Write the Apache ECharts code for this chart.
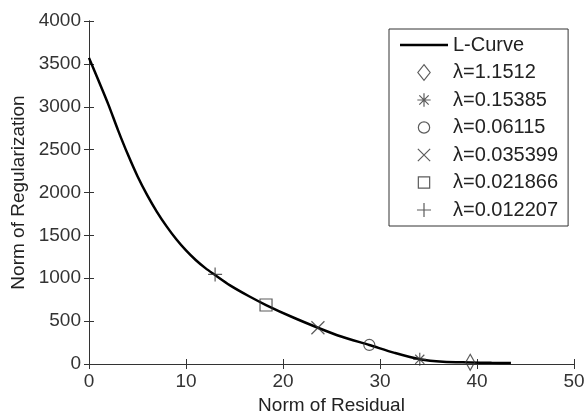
<!DOCTYPE html>
<html><head><meta charset="utf-8">
<script src="https://cdn.jsdelivr.net/npm/echarts@6/dist/echarts.min.js"></script>
<style>html,body{margin:0;padding:0;background:#fff}#c{width:586px;height:412px}</style>
</head><body><div id="c"></div>
<script>
// L-curve
const curveX = [0, 1, 2, 3, 4, 5, 6, 7, 8, 9, 10, 11, 12, 13, 14.5, 16.5, 18.25, 21, 23.6, 26, 28.9, 31.5, 34.1, 36.5, 39.3, 41.5, 43.5];
const curveY = [3570, 3300, 3025, 2725, 2445, 2190, 1970, 1775, 1605, 1455, 1325, 1213, 1118, 1038, 920, 790, 688, 545, 423, 320, 222, 130, 55, 25, 18, 14, 12];
// Marked points
const markerNames = ['λ=1.1512', 'λ=0.15385', 'λ=0.06115', 'λ=0.035399', 'λ=0.021866', 'λ=0.012207'];
const markerX = [39.3, 34.1, 28.9, 23.6, 18.25, 13.0];
const markerY = [20, 55, 222, 423, 688, 1045];
const xTicks = [0, 10, 20, 30, 40, 50];
const yTicks = [0, 500, 1000, 1500, 2000, 2500, 3000, 3500, 4000];

// plot symbols
const symbols = [
  'path://M6,0L12,8L6,16L0,8Z',
  'path://M6,0L6,12M0,6L12,6M1.8,1.8L10.2,10.2M10.2,1.8L1.8,10.2',
  'path://M12,6A6,6,0,1,1,0,6A6,6,0,1,1,12,6Z',
  'path://M0,0L10,10M10,0L0,10',
  'path://M0,0L10,0L10,10L0,10Z',
  'path://M5,0L5,10M0,5L10,5'
];
const sizes = [[12,16], 13, 11, 13, 12, 14];
// legend icons (frame 1.5..14.5)
const F = 'path://M1.5,1.5M14.5,14.5';
const legendIcons = [
  F + 'M8,1.6L13,8L8,14.4L3,8Z',
  F + 'M8,2.6L8,13.4M2.6,8L13.4,8M4.2,4.2L11.8,11.8M11.8,4.2L4.2,11.8',
  F + 'M12.6,8A4.6,4.6,0,1,1,3.4,8A4.6,4.6,0,1,1,12.6,8Z',
  F + 'M3,3L13,13M13,3L3,13',
  F + 'M3.4,3.4L12.6,3.4L12.6,12.6L3.4,12.6Z',
  F + 'M8,2.3L8,13.7M2.3,8L13.7,8'
];

const dark = '#333';
const font = 'Liberation Sans, Arial, sans-serif';
const markStyle = {color: 'rgba(0,0,0,0)', borderColor: dark, borderWidth: 1.2};

const series = [{
  name: 'L-Curve', type: 'line', smooth: 0.3, symbol: 'none',
  lineStyle: {color: '#000', width: 2.5},
  itemStyle: {color: '#000'},
  data: curveX.map((x, i) => [x, curveY[i]]), z: 2
}];
markerNames.forEach((n, i) => {
  series.push({
    name: n, type: 'scatter', symbol: symbols[i], symbolSize: sizes[i], symbolKeepAspect: true,
    itemStyle: markStyle,
    data: [[markerX[i], markerY[i]]], z: 3
  });
});

const legendData = [{
  name: 'L-Curve', icon: 'path://M0,0M48,16M0,6.75L48,6.75L48,9.25L0,9.25Z',
  itemStyle: {color: '#000', borderWidth: 0}
}].concat(markerNames.map((n, i) => ({name: n, icon: legendIcons[i], itemStyle: markStyle})));

const axBase = {
  axisLine: {show: true, lineStyle: {color: dark, width: 1}},
  axisTick: {show: true, inside: true, length: 5, lineStyle: {color: dark}},
  splitLine: {show: false}
};
const lbl = {fontFamily: font, fontSize: 19, color: '#333', margin: 8, formatter: v => String(v)};

const option = {
  animation: false,
  backgroundColor: '#fff',
  grid: {left: 89, right: 12, top: 21, bottom: 48, containLabel: false, outerBoundsMode: 'none'},
  xAxis: [
    Object.assign({}, axBase, {type: 'value', min: xTicks[0], max: xTicks[xTicks.length - 1], interval: 10, position: 'bottom',
      name: 'Norm of Residual', nameLocation: 'middle', nameGap: 25,
      nameTextStyle: {fontFamily: font, fontSize: 19, color: '#222'},
      axisLabel: lbl}),
    Object.assign({}, axBase, {type: 'value', min: 0, max: 50, interval: 10, position: 'top',
      axisLabel: {show: false}})
  ],
  yAxis: [
    Object.assign({}, axBase, {type: 'value', min: yTicks[0], max: yTicks[yTicks.length - 1], interval: 500, position: 'left',
      name: 'Norm of Regularization', nameLocation: 'middle', nameGap: 58,
      nameTextStyle: {fontFamily: font, fontSize: 19, color: '#222'},
      axisLabel: lbl}),
    Object.assign({}, axBase, {type: 'value', min: 0, max: 4000, interval: 500, position: 'right',
      axisLabel: {show: false}})
  ],
  legend: {
    orient: 'vertical', left: 389, top: 29,
    padding: [5.5, 10, 5.5, 11], itemGap: 6.5, itemWidth: 48, itemHeight: 16,
    symbolKeepAspect: true,
    backgroundColor: '#fff', borderColor: dark, borderWidth: 1,
    textStyle: {fontFamily: font, fontSize: 20, lineHeight: 21, color: '#222'},
    data: legendData
  },
  series: series
};
const chart = echarts.init(document.getElementById('c'), null, {renderer: 'canvas'});
chart.setOption(option);
</script></body></html>
